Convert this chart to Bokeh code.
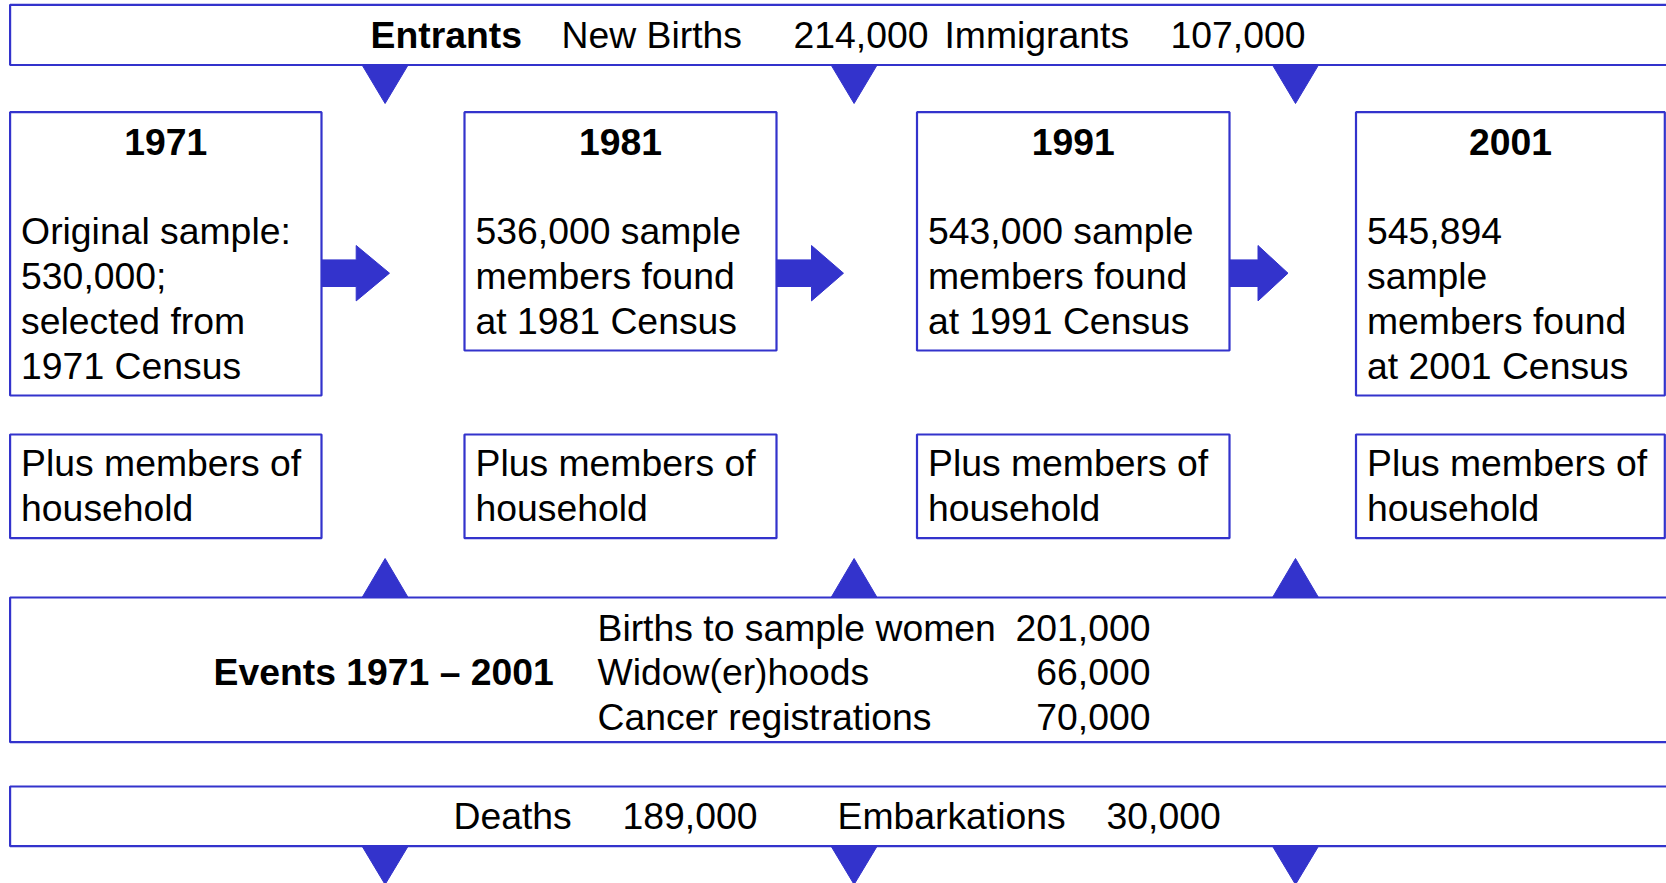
from bokeh.plotting import figure
from bokeh.models import Range1d, ColumnDataSource
from bokeh.core.properties import value
from bokeh.embed import file_html
from bokeh.resources import INLINE

# ---------------- data ----------------
entrants_title = "Entrants"
entrant_labels = ["New Births", "Immigrants"]
entrant_values = ["214,000", "107,000"]

census_years = ["1971", "1981", "1991", "2001"]
census_text = [
    ["Original sample:", "530,000;", "selected from", "1971 Census"],
    ["536,000 sample", "members found", "at 1981 Census"],
    ["543,000 sample", "members found", "at 1991 Census"],
    ["545,894", "sample", "members found", "at 2001 Census"],
]
household_text = ["Plus members of", "household"]

events_title = "Events 1971 \u2013 2001"
event_labels = ["Births to sample women", "Widow(er)hoods", "Cancer registrations"]
event_values = ["201,000", "66,000", "70,000"]

exit_labels = ["Deaths", "Embarkations"]
exit_values = ["189,000", "30,000"]

# ---------------- layout / style ----------------
BLUE = "#3333CC"
FONT = value("Liberation Sans")
FS = value("28pt")
LW = 2.2
LINE_H = 45
TEXT_DY = 13   # renderer places text lower than the alphabetic baseline

W, H = 1666, 883
p = figure(width=W, height=H, output_backend="svg", toolbar_location=None,
           x_range=Range1d(0, W), y_range=Range1d(H, 0),
           min_border=0)
p.axis.visible = False
p.grid.visible = False
p.outline_line_color = None
p.background_fill_color = "white"
p.border_fill_color = "white"

box_left = [9.6, 464, 916.5, 1355.5]
box_right = [321, 776, 1229, 1664.3]
box_top = 111.7
first_base = 243
pad = 11

# banners (extend past the right edge)
ban_l = [9.6, 9.6, 9.6]
ban_r = [1720, 1720, 1720]
ban_t = [4.3, 597, 786]
ban_b = [64.5, 741.7, 845.7]
p.quad(left=ban_l, right=ban_r, top=ban_t, bottom=ban_b,
       fill_color="white", line_color=BLUE, line_width=LW)

# census boxes
c_bottom = [first_base + (len(t) - 1) * LINE_H + 17 for t in census_text]
p.quad(left=box_left, right=box_right, top=[box_top] * 4, bottom=c_bottom,
       fill_color="white", line_color=BLUE, line_width=LW)

# household boxes
p.quad(left=box_left, right=box_right, top=[434] * 4, bottom=[537.7] * 4,
       fill_color="white", line_color=BLUE, line_width=LW)

# triangles
tri_x = [384.6, 853.6, 1295]
hw = 23
xs, ys = [], []
for cx in tri_x:
    xs.append([cx - hw, cx + hw, cx]); ys.append([64.5, 64.5, 103])     # down from entrants
    xs.append([cx - hw, cx + hw, cx]); ys.append([597, 597, 558])       # up from events
    xs.append([cx - hw, cx + hw, cx]); ys.append([845.7, 845.7, 884])   # down from exits
p.patches(xs, ys, fill_color=BLUE, line_color=BLUE, line_width=1)

# right arrows between census boxes
shaft_end = [355.7, 811, 1257.5]
tips = [389, 843, 1287.5]
axs, ays = [], []
cy = 272.7
for i in range(3):
    x0 = box_right[i]
    x1 = shaft_end[i]
    x2 = tips[i]
    axs.append([x0, x1, x1, x2, x1, x1, x0])
    ays.append([cy - 13.3, cy - 13.3, cy - 27.7, cy, cy + 27.7, cy + 13.3, cy + 13.3])
p.patches(axs, ays, fill_color=BLUE, line_color=BLUE, line_width=1)


def add_text(xs_, ys_, texts, align="left", bold=False):
    src = ColumnDataSource(dict(x=xs_, y=[v - TEXT_DY for v in ys_], t=texts))
    p.text(x="x", y="y", text="t", source=src, text_font=FONT, text_font_size=FS,
           text_font_style="bold" if bold else "normal", text_color="black",
           text_align=align, text_baseline="alphabetic")


# entrants banner text
add_text([370], [47.5], [entrants_title], bold=True)
add_text([561, 944], [47.5] * 2, entrant_labels)
add_text([793, 1170], [47.5] * 2, entrant_values)

# census box titles
add_text([(l + r) / 2 for l, r in zip(box_left, box_right)], [154] * 4, census_years,
         align="center", bold=True)
tx, ty, tt = [], [], []
for i, lines in enumerate(census_text):
    for j, s in enumerate(lines):
        tx.append(box_left[i] + pad)
        ty.append(first_base + j * LINE_H)
        tt.append(s)
add_text(tx, ty, tt)

# household boxes
hx, hy, ht = [], [], []
for l in box_left:
    for j, s in enumerate(household_text):
        hx.append(l + pad)
        hy.append(475 + j * LINE_H)
        ht.append(s)
add_text(hx, hy, ht)

# events box
add_text([213], [684], [events_title], bold=True)
ev_y = [640, 684.5, 729]
add_text([597] * 3, ev_y, event_labels)
add_text([1150] * 3, ev_y, event_values, align="right")

# exits banner
add_text([453, 837], [828] * 2, exit_labels)
add_text([622, 1106], [828] * 2, exit_values)

open("out.html", "w").write(file_html(p, INLINE))
